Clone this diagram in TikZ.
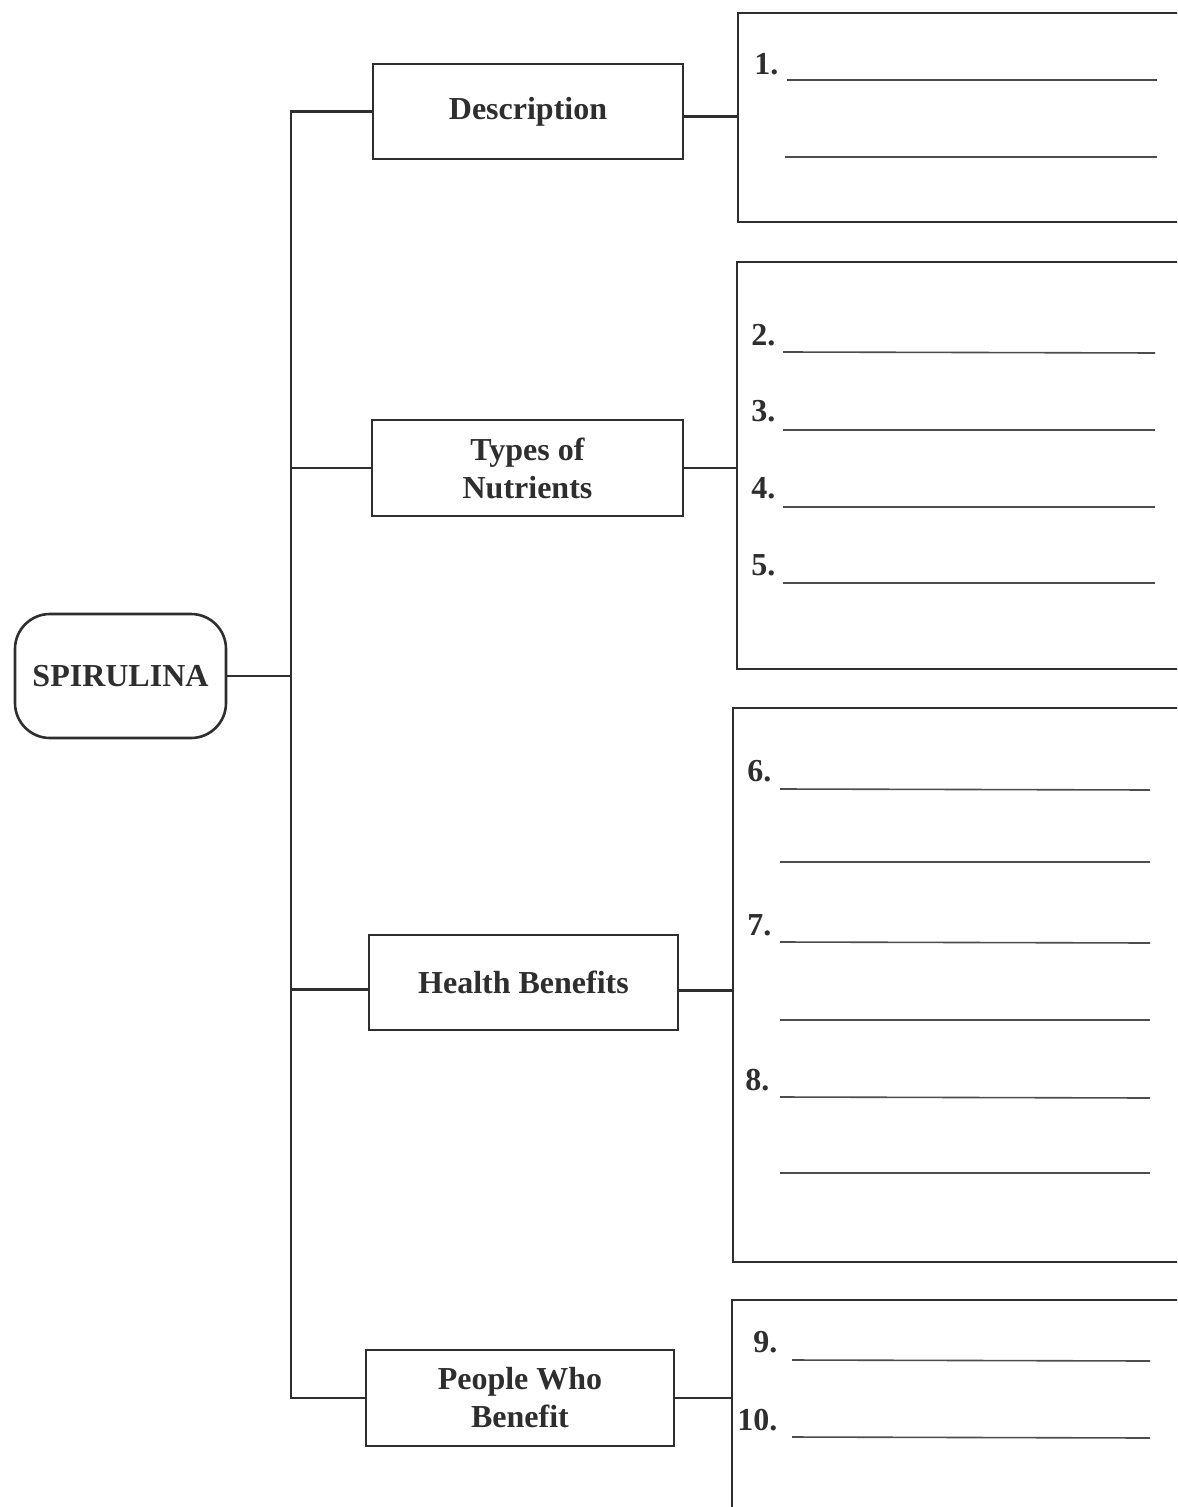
\documentclass[tikz,border=0pt]{standalone}
\usepackage{fontspec}
\setmainfont{Liberation Serif}
\definecolor{ink}{HTML}{2E2E2E}
\begin{document}
\begin{tikzpicture}[x=0.5pt,y=-0.5pt,
  box/.style={draw=ink,line width=1.3pt,fill=white,font=\fontsize{16}{19}\selectfont\bfseries,text=ink,align=center,inner sep=0pt},
  rootbox/.style={box,rounded corners=17.5pt},
  ansbox/.style={draw=ink,line width=1.2pt,inner sep=0pt},
  conn/.style={draw=ink,line width=1.1pt},
  num/.style={font=\fontsize{16}{19}\selectfont\bfseries,text=ink,inner sep=0pt,anchor=base west},
  ansline/.style={draw=ink!85,line width=0.8pt}]
\useasboundingbox (0,0) rectangle (1177,1507);
\clip (0,0) rectangle (1177,1507);
\fill[white] (0,0) rectangle (1177,1507);
% answer boxes
\node[ansbox,minimum width=221pt,minimum height=104.5pt] (b1) at (959,117.5) {};
\node[ansbox,minimum width=221.5pt,minimum height=203.5pt] (b2) at (958.5,465.5) {};
\node[ansbox,minimum width=223.5pt,minimum height=277pt] (b3) at (956.5,985) {};
\node[ansbox,minimum width=224pt,minimum height=110pt] (b4) at (956,1410) {};
% category boxes
\node[rootbox,minimum width=105.5pt,minimum height=62pt] (spir) at (120.5,676) {SPIRULINA};
\node[box,minimum width=155pt,minimum height=47.5pt] (desc) at (528,111.5) {Description};
\node[box,minimum width=155.5pt,minimum height=48pt] (types) at (527.5,468) {Types of\\Nutrients};
\node[box,minimum width=154.5pt,minimum height=47.5pt] (health) at (523.5,982.5) {Health Benefits};
\node[box,minimum width=154pt,minimum height=48pt] (people) at (520,1398) {People Who\\Benefit};
% spine and branches
\coordinate (spine) at (291,0);
\coordinate (hw) at ([yshift=-3.5pt]health.west);
\coordinate (he) at ([yshift=-4pt]health.east);
\coordinate (de) at ([yshift=-2.5pt]desc.east);
\draw[conn] (spir.east) -- (spir.east -| spine);
\draw[conn] (desc.west) -- (desc.west -| spine) -- (people.west -| spine) -- (people.west);
\draw[conn] (types.west) -- (types.west -| spine);
\draw[conn] (hw) -- (hw -| spine);
\draw[conn] (de) -- (de -| b1.west);
\draw[conn] (types.east) -- (types.east -| b2.west);
\draw[conn] (he) -- (he -| b3.west);
\draw[conn] (people.east) -- (people.east -| b4.west);
% box 1
\node[num] (n1) at (754,75) {1.};
\draw[ansline] (787,80) -- (1157,80);
\draw[ansline] (785,157) -- (1157,157);
% box 2
\node[num] (n2) at (751,346) {2.};
\draw[ansline] (783,352) -- (1155,353);
\node[num] (n3) at (751,422) {3.};
\draw[ansline] (783,430) -- (1155,430);
\node[num] (n4) at (751,499) {4.};
\draw[ansline] (783,507) -- (1155,507);
\node[num] (n5) at (751,575) {5.};
\draw[ansline] (783,583) -- (1155,583);
% box 3
\node[num] (n6) at (747,781) {6.};
\draw[ansline] (780,789) -- (1150,790);
\draw[ansline] (780,862) -- (1150,862);
\node[num] (n7) at (747,935) {7.};
\draw[ansline] (780,942) -- (1150,943);
\draw[ansline] (780,1020) -- (1150,1020);
\node[num] (n8) at (745,1090) {8.};
\draw[ansline] (780,1097) -- (1150,1098);
\draw[ansline] (780,1173) -- (1150,1173);
% box 4
\node[num] (n9) at (753,1352) {9.};
\draw[ansline] (792,1360) -- (1150,1361);
\node[num] (n10) at (737,1430) {10.};
\draw[ansline] (792,1437) -- (1150,1438);
\end{tikzpicture}
\end{document}
